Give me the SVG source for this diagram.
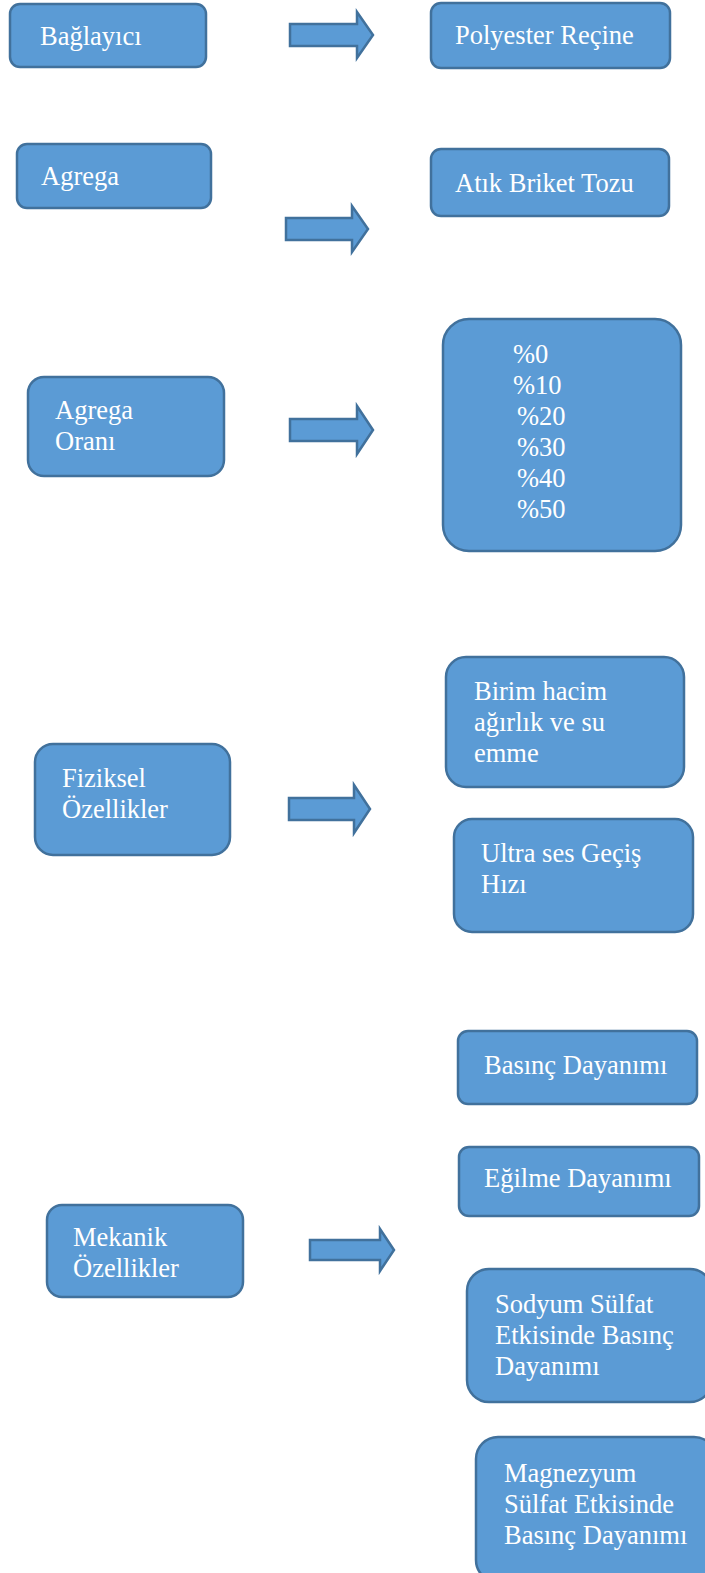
<svg xmlns="http://www.w3.org/2000/svg" width="705" height="1573" viewBox="0 0 705 1573">
<style>
.n{fill:#5B9BD5;stroke:#41719C;stroke-width:2.5}
.a{fill:#5B9BD5;stroke:#41719C;stroke-width:2.5;stroke-linejoin:miter}
text{font-family:"Liberation Serif","Times New Roman",serif;font-size:26.5px;fill:#FFFFFF}
</style>
<rect width="705" height="1573" fill="#FFFFFF"/>
<g id="connectors">
<path class="a" d="M290,24 H357 V12 L373,35 L357,58 V46 H290 Z"/>
<path class="a" d="M286,218 H352 V206 L368,229 L352,252 V240 H286 Z"/>
<path class="a" d="M290,419 H357 V406 L373,430 L357,454 V441 H290 Z"/>
<path class="a" d="M289,798 H354 V785 L370,809 L354,833 V820 H289 Z"/>
<path class="a" d="M310,1240 H380 V1229 L394,1250 L380,1271 V1260 H310 Z"/>
</g>
<g id="baglayici"><rect class="n" x="10" y="4" width="196" height="63" rx="10"/><text x="40" y="45">Bağlayıcı</text></g>
<g id="polyester"><rect class="n" x="431" y="3" width="239" height="65" rx="10"/><text x="455" y="44">Polyester Reçine</text></g>
<g id="agrega"><rect class="n" x="17" y="144" width="194" height="64" rx="10"/><text x="41" y="185">Agrega</text></g>
<g id="atik"><rect class="n" x="431" y="149" width="238" height="67" rx="10"/><text x="455" y="192">Atık Briket Tozu</text></g>
<g id="agrega-orani"><rect class="n" x="28" y="377" width="196" height="99" rx="16"/><text x="55" y="419">Agrega</text><text x="55" y="450">Oranı</text></g>
<g id="oranlar"><rect class="n" x="443" y="319" width="238" height="232" rx="26"/>
<text x="513" y="363">%0</text><text x="513" y="394">%10</text><text x="517" y="425">%20</text><text x="517" y="456">%30</text><text x="517" y="487">%40</text><text x="517" y="518">%50</text></g>
<g id="fiziksel"><rect class="n" x="35" y="744" width="195" height="111" rx="18"/><text x="62" y="787">Fiziksel</text><text x="62" y="818">Özellikler</text></g>
<g id="birim"><rect class="n" x="446" y="657" width="238" height="130" rx="20"/><text x="474" y="700">Birim hacim</text><text x="474" y="731">ağırlık ve su</text><text x="474" y="762">emme</text></g>
<g id="ultra"><rect class="n" x="454" y="819" width="239" height="113" rx="18"/><text x="481" y="862">Ultra ses Geçiş</text><text x="481" y="893">Hızı</text></g>
<g id="basinc"><rect class="n" x="458" y="1031" width="239" height="73" rx="10"/><text x="484" y="1074">Basınç Dayanımı</text></g>
<g id="egilme"><rect class="n" x="459" y="1147" width="240" height="69" rx="10"/><text x="484" y="1187">Eğilme Dayanımı</text></g>
<g id="mekanik"><rect class="n" x="47" y="1205" width="196" height="92" rx="15"/><text x="73" y="1246">Mekanik</text><text x="73" y="1277">Özellikler</text></g>
<g id="sodyum"><rect class="n" x="467" y="1269" width="245" height="133" rx="22"/><text x="495" y="1313">Sodyum Sülfat</text><text x="495" y="1344">Etkisinde Basınç</text><text x="495" y="1375">Dayanımı</text></g>
<g id="magnezyum"><rect class="n" x="476" y="1437" width="240" height="145" rx="22"/><text x="504" y="1482">Magnezyum</text><text x="504" y="1513">Sülfat Etkisinde</text><text x="504" y="1544">Basınç Dayanımı</text></g>
</svg>
